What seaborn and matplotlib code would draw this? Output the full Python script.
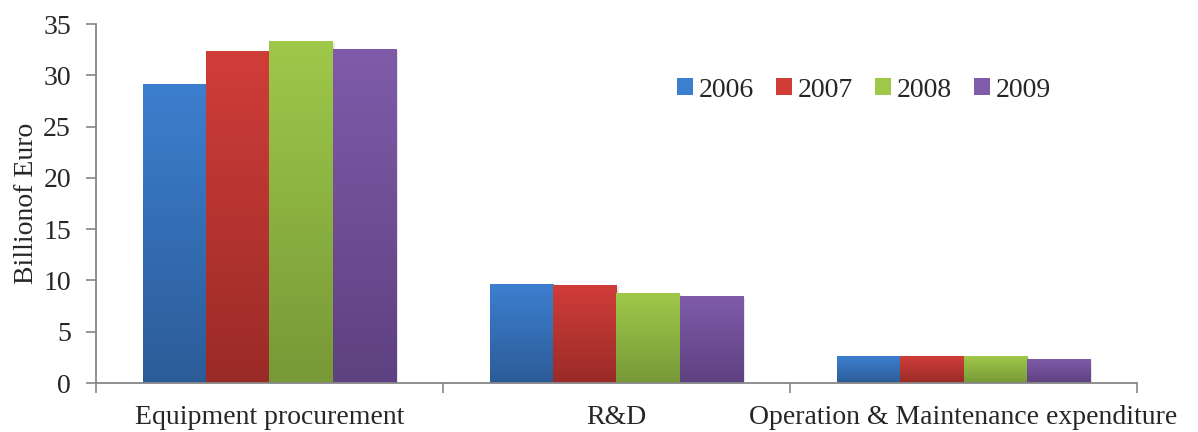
import numpy as np
import pandas as pd
import matplotlib
matplotlib.use("Agg")
import matplotlib.pyplot as plt
import matplotlib.colors as mcolors
from matplotlib.patches import Patch, Rectangle
import seaborn as sns

# --- data ---
categories = ["Equipment procurement", "R&D", "Operation & Maintenance expenditure"]
years = ["2006", "2007", "2008", "2009"]
vals_2006 = [29.1, 9.65, 2.6]
vals_2007 = [32.3, 9.55, 2.55]
vals_2008 = [33.3, 8.7, 2.55]
vals_2009 = [32.55, 8.4, 2.25]

# top (light) / bottom (dark) colours of the gradient fill
top_colors = ["#3C7FCF", "#D03D39", "#9FC84A", "#7F5BAA"]
bottom_colors = ["#2C5C98", "#9A2B28", "#779937", "#5E4180"]

df = pd.DataFrame({
    "category": np.repeat(categories, len(years)),
    "year": years * len(categories),
    "value": np.column_stack([vals_2006, vals_2007, vals_2008, vals_2009]).ravel(),
})

sns.set_style("white")
plt.rcParams["font.family"] = ["Liberation Serif", "DejaVu Serif"]
FS = 20

fig = plt.figure(figsize=(11.98, 4.32), dpi=100)
ax = fig.add_axes([0.0801, 0.1134, 0.8690, 0.8310])

sns.barplot(data=df, x="category", y="value", hue="year", order=categories,
            hue_order=years, palette=top_colors, width=0.73, gap=0,
            errorbar=None, legend=False, ax=ax, linewidth=0, saturation=1)

# gradient fill + soft shadow for every bar
for i, container in enumerate(ax.containers):
    cmap = mcolors.LinearSegmentedColormap.from_list("g", [bottom_colors[i], top_colors[i]])
    for bar in container:
        x0, y0 = bar.get_x(), bar.get_y()
        w, h = bar.get_width(), bar.get_height()
        shadow = Rectangle((x0 + 0.006, y0 - 0.15), w, h, color="#000000",
                           alpha=0.10, lw=0, zorder=1.5)
        ax.add_patch(shadow)
        grad = np.linspace(0, 1, 128).reshape(-1, 1)
        ax.imshow(grad, extent=(x0, x0 + w, y0, y0 + h), origin="lower",
                  cmap=cmap, aspect="auto", zorder=2)
        bar.set_visible(False)

ax.set_xlim(-0.5, 2.5)
ax.set_ylim(0, 35)
ax.set_yticks(np.arange(0, 36, 5))
ax.set_xlabel("")
ax.set_ylabel("Billionof Euro", fontsize=FS, labelpad=3)

# category boundary ticks
ax.set_xticks([-0.5, 0.5, 1.5, 2.5], minor=True)
ax.tick_params(axis="x", which="major", length=0, pad=16, labelsize=FS)
ax.tick_params(axis="x", which="minor", length=7, width=1.2, color="#868686",
               direction="out", bottom=True)
ax.tick_params(axis="y", length=7, width=1.2, color="#868686", direction="out",
               left=True, pad=11, labelsize=FS)

for side in ["top", "right"]:
    ax.spines[side].set_visible(False)
for side in ["left", "bottom"]:
    ax.spines[side].set_color("#868686")
    ax.spines[side].set_linewidth(1.3)

handles = [Patch(facecolor=c, edgecolor="none") for c in top_colors]
ax.legend(handles, years, loc="center left", bbox_to_anchor=(0.558, 0.816),
          ncol=4, frameon=False, fontsize=FS, handlelength=0.58,
          handleheight=0.58, handletextpad=0.2, columnspacing=0.8, borderpad=0,
          borderaxespad=0)

fig.savefig("out.png", dpi=100)
